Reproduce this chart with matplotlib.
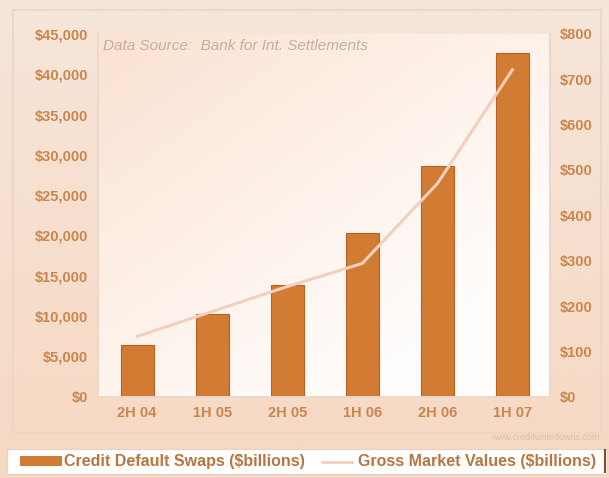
""" Credit default swaps vs gross market values, bars + line on twin axes
"""
import matplotlib
matplotlib.use('Agg')
import matplotlib.pyplot as plt
import numpy as np
from matplotlib.ticker import FuncFormatter

periods = ['2H 04', '1H 05', '2H 05', '1H 06', '2H 06', '1H 07']
cds_notional = [6396, 10211, 13908, 20352, 28650, 42580]
gross_market = [133, 188, 243, 294, 470, 721]

left_ticks = [0, 5000, 10000, 15000, 20000, 25000, 30000, 35000, 40000, 45000]
right_ticks = [0, 100, 200, 300, 400, 500, 600, 700, 800]

bar_color = '#d27b32'
line_color = '#f2d0bd'
text_color = '#c9864d'

plt.rcParams['font.family'] = ['Liberation Sans', 'DejaVu Sans']

fig = plt.figure(figsize=(6.09, 4.78), dpi=100)
fig.patch.set_facecolor('#f8e3d3')

# soft background band behind the whole chart
bg = fig.add_axes([0, 0, 1, 1], zorder=-10)
grad = np.linspace(0, 1, 256).reshape(-1, 1)
bg.imshow(grad, aspect='auto', extent=[0, 1, 0, 1],
          cmap=matplotlib.colors.LinearSegmentedColormap.from_list('b', ['#f6e6da', '#f6d8c2']))
bg.set_xlim(0, 1)
bg.set_ylim(0, 1)
bg.axis('off')
bg.add_patch(plt.Rectangle((0.022, 0.095), 0.965, 0.885, fill=False,
                           edgecolor='#ecd6c6', lw=1.5))

ax = fig.add_axes([0.161, 0.17, 0.742, 0.759])
ax.set_facecolor('none')

# gradient fill of plot area (peach top-left to white)
gx, gy = np.meshgrid(np.linspace(0, 1, 200), np.linspace(0, 1, 200))
shade = np.clip(0.55 * (1 - gx) + 0.6 * gy - 0.25, 0, 1)
ax.imshow(shade, origin='lower', aspect='auto', extent=[-0.52, 5.5, 0, 45000],
          cmap=matplotlib.colors.LinearSegmentedColormap.from_list('p', ['#fffdfc', '#fbe2d2']),
          zorder=0)

x = np.arange(len(periods))
ax.bar(x, cds_notional, width=0.44, color=bar_color, edgecolor='#b9611f',
       linewidth=0.8, zorder=2)

ax.set_xlim(-0.52, 5.5)
ax.set_ylim(0, 45000)
ax.set_yticks(left_ticks)
ax.yaxis.set_major_formatter(FuncFormatter(lambda v, p: '${:,.0f}'.format(v)))
ax.set_xticks(x)
ax.set_xticklabels(periods)
ax.tick_params(axis='x', length=0, colors=text_color, labelsize=10.5, pad=7)
ax.tick_params(axis='y', length=0, colors=text_color, labelsize=10.5, pad=7)
for lab in ax.get_xticklabels() + ax.get_yticklabels():
    lab.set_fontweight('bold')

ax2 = ax.twinx()
ax2.plot(x, gross_market, color=line_color, lw=2.2, zorder=3)
ax2.set_ylim(0, 800)
ax2.set_yticks(right_ticks)
ax2.yaxis.set_major_formatter(FuncFormatter(lambda v, p: '${:,.0f}'.format(v)))
ax2.tick_params(length=0, colors=text_color, labelsize=10.5, pad=7)
for lab in ax2.get_yticklabels():
    lab.set_fontweight('bold')

for a in (ax, ax2):
    for s in a.spines.values():
        s.set_color('#ead8cc')
        s.set_linewidth(1.2)
    a.spines['top'].set_visible(False)

ax.text(0.012, 0.985, 'Data Source:  Bank for Int. Settlements', transform=ax.transAxes,
        style='italic', fontsize=11, color='#c4ae9e', va='top', ha='left')

fig.text(0.985, 0.085, 'www.creditwritedowns.com', fontsize=6.5, color='#e0bcac',
         ha='right', va='center')

# legend strip along the bottom
fig.patches.append(plt.Rectangle((0.012, 0.008), 0.985, 0.052, transform=fig.transFigure,
                                 facecolor='white', edgecolor='#e8d4c6', lw=1, zorder=5))
fig.patches.append(plt.Rectangle((0.033, 0.025), 0.068, 0.02, transform=fig.transFigure,
                                 facecolor=bar_color, edgecolor='none', zorder=6))
fig.text(0.105, 0.034, 'Credit Default Swaps ($billions)', fontsize=11.5, fontweight='bold',
         color='#b8753f', va='center', ha='left', zorder=7)
fig.lines.append(plt.Line2D([0.528, 0.578], [0.034, 0.034], transform=fig.transFigure,
                            color=line_color, lw=2, zorder=6))
fig.text(0.588, 0.034, 'Gross Market Values ($billions)', fontsize=11.5, fontweight='bold',
         color='#b8753f', va='center', ha='left', zorder=7)
fig.lines.append(plt.Line2D([0.993, 0.993], [0.012, 0.058], transform=fig.transFigure,
                            color='#8a4a20', lw=1.5, zorder=7))

plt.savefig('out.png', dpi=100)
plt.close()
